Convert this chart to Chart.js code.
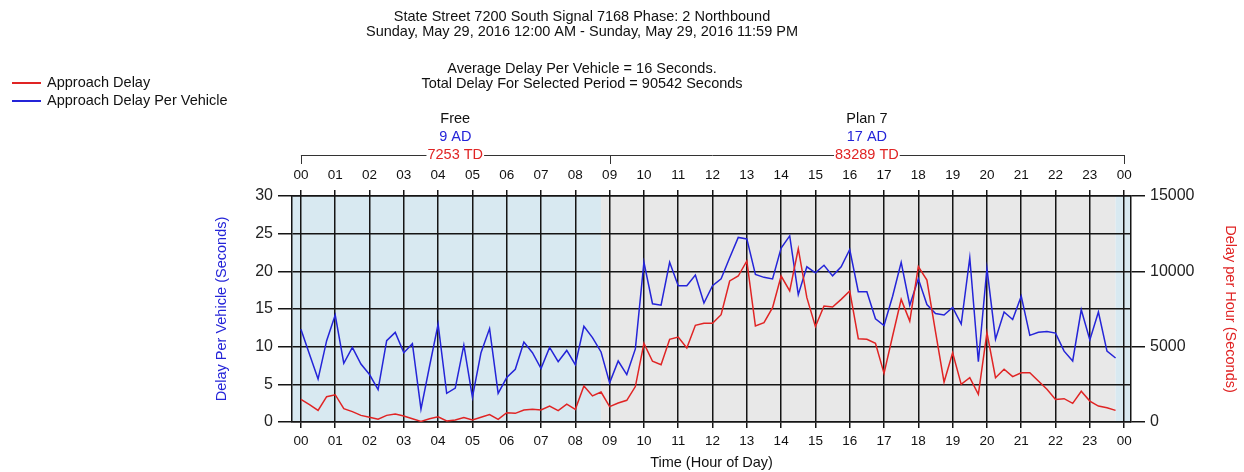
<!DOCTYPE html>
<html>
<head>
<meta charset="utf-8">
<script src="https://cdn.jsdelivr.net/npm/chart.js@4/dist/chart.umd.min.js"></script>
<style>
html,body{margin:0;padding:0;background:#fff;}
canvas{display:block;}
</style>
</head>
<body>
<canvas id="c" width="1244" height="472"></canvas>
<script>
// ---- data ----
const titleLines = [
  'State Street 7200 South Signal 7168 Phase: 2 Northbound',
  'Sunday, May 29, 2016 12:00 AM - Sunday, May 29, 2016 11:59 PM',
  '',
  'Average Delay Per Vehicle = 16 Seconds.',
  'Total Delay For Selected Period = 90542 Seconds'
];
const seriesNames = ['Approach Delay', 'Approach Delay Per Vehicle'];
const hourTicks = [0,1,2,3,4,5,6,7,8,9,10,11,12,13,14,15,16,17,18,19,20,21,22,23,24];
const hourTickLabels = ['00','01','02','03','04','05','06','07','08','09','10','11','12','13','14','15','16','17','18','19','20','21','22','23','00'];

// Approach delay per vehicle (seconds), every 15 minutes from 00:00
const delayPerVehicle = [
  12.3, 9.0, 5.7, 10.8, 14.2, 7.8, 9.9, 7.7,
  6.3, 4.3, 10.8, 11.9, 9.2, 10.4, 1.7, 7.4,
  13.0, 3.8, 4.5, 10.2, 3.3, 9.2, 12.4, 3.8,
  5.9, 7.0, 10.6, 9.2, 7.1, 9.9, 8.0, 9.5,
  7.6, 12.7, 11.2, 9.3, 5.2, 8.1, 6.3, 9.7,
  21.2, 15.7, 15.5, 21.2, 18.1, 18.1, 19.5, 15.8,
  18.1, 19.0, 21.8, 24.5, 24.3, 19.6, 19.2, 19.0,
  23.1, 24.7, 16.9, 20.6, 19.8, 20.8, 19.4, 20.6,
  22.9, 17.3, 17.3, 13.7, 12.8, 16.7, 21.2, 15.5,
  19.0, 15.6, 14.4, 14.2, 15.2, 13.0, 21.8, 8.0,
  20.4, 11.0, 14.6, 13.6, 16.7, 11.5, 11.9, 12.0,
  11.8, 9.4, 8.1, 14.9, 10.9, 14.6, 9.4, 8.5
];
// Approach delay (seconds per hour), every 15 minutes from 00:00
const approachDelay = [
  1500, 1150, 770, 1680, 1810, 880, 690, 440,
  310, 180, 440, 530, 400, 220, 40, 220,
  350, 70, 130, 290, 130, 310, 490, 180,
  620, 575, 800, 840, 800, 1060, 750, 1190,
  840, 2390, 1730, 1990, 1020, 1260, 1440, 2350,
  5220, 4030, 3800, 5490, 5640, 4910, 6420, 6550,
  6550, 7120, 9360, 9690, 10690, 6370, 6590, 7590,
  9690, 8700, 11500, 8250, 6330, 7700, 7630, 8140,
  8700, 5530, 5490, 5220, 3230, 5710, 8140, 6700,
  10310, 9420, 6000, 2650, 4600, 2500, 2940, 1840,
  5930, 2940, 3500, 3010, 3270, 3270, 2720, 2170,
  1500, 1550, 1240, 2040, 1390, 1060, 950, 770
];
const quarterHours = delayPerVehicle.map((_, i) => i / 4);

// timing plans
const planNames = ['Free', 'Plan 7'];
const planStart = [0, 9];
const planEnd = [9, 24];
const planAvgDelay = ['9 AD', '17 AD'];
const planTotalDelay = ['7253 TD', '83289 TD'];

// background bands (hours)
const bandStart = [-1, 8.75, 23.75];
const bandEnd = [8.75, 23.75, 25];
const bandColors = ['#d8e9f1', '#e8e8e8', '#d8e9f1'];

const RED = '#e02424';
const BLUE = '#2424d8';
const GRID = '#151515';
const FONT = '"Liberation Sans", Arial, sans-serif';
const TXT = 14.5;
const X_MIN = -0.26, X_MAX = 24.2;

const bgPlugin = {
  id: 'bands',
  beforeDraw(chart) {
    const {ctx, chartArea: a, scales: {x}} = chart;
    ctx.save();
    ctx.beginPath();
    ctx.rect(a.left, a.top, a.right - a.left, a.bottom - a.top);
    ctx.clip();
    bandStart.forEach((s, i) => {
      const x0 = x.getPixelForValue(s), x1 = x.getPixelForValue(bandEnd[i]);
      ctx.fillStyle = bandColors[i];
      ctx.fillRect(x0, a.top, x1 - x0, a.bottom - a.top);
    });
    ctx.restore();
  }
};

const textPlugin = {
  id: 'texts',
  afterDraw(chart) {
    const {ctx} = chart;
    const xt = chart.scales.xTop;
    ctx.save();
    // titles
    ctx.font = TXT + 'px ' + FONT;
    ctx.fillStyle = '#111';
    ctx.textAlign = 'center';
    ctx.textBaseline = 'middle';
    const ty = [17, 32, 50, 69, 84];
    titleLines.forEach((t, i) => { if (t) ctx.fillText(t, 582, ty[i]); });
    // legend
    const ly = [83, 101];
    const lc = [RED, BLUE];
    ctx.textAlign = 'left';
    seriesNames.forEach((n, i) => {
      ctx.strokeStyle = lc[i];
      ctx.lineWidth = 2;
      ctx.beginPath();
      ctx.moveTo(12, ly[i]); ctx.lineTo(41, ly[i]);
      ctx.stroke();
      ctx.fillStyle = '#111';
      ctx.fillText(n, 47, ly[i]);
    });
    // plan brackets
    const by = 155, bt = 164;
    ctx.strokeStyle = '#333';
    ctx.lineWidth = 1;
    ctx.beginPath();
    const xs = xt.getPixelForValue(planStart[0]);
    const xe = xt.getPixelForValue(planEnd[planEnd.length - 1]);
    ctx.moveTo(xs, by + 0.5); ctx.lineTo(xe, by + 0.5);
    planStart.forEach(s => {
      const px = Math.round(xt.getPixelForValue(s)) + 0.5;
      ctx.moveTo(px, by); ctx.lineTo(px, bt);
    });
    const pe = Math.round(xe) + 0.5;
    ctx.moveTo(pe, by); ctx.lineTo(pe, bt);
    ctx.stroke();
    ctx.textAlign = 'center';
    planNames.forEach((n, i) => {
      const cx = (xt.getPixelForValue(planStart[i]) + xt.getPixelForValue(planEnd[i])) / 2;
      ctx.fillStyle = '#111';
      ctx.fillText(n, cx, 119);
      ctx.fillStyle = BLUE;
      ctx.fillText(planAvgDelay[i], cx, 137);
      const w = ctx.measureText(planTotalDelay[i]).width;
      ctx.fillStyle = '#fff';
      ctx.fillRect(cx - w / 2 - 1, by - 7, w + 2, 14);
      ctx.fillStyle = RED;
      ctx.fillText(planTotalDelay[i], cx, by);
    });
    ctx.restore();
  }
};

const hourLabel = (v) => {
  const i = hourTicks.indexOf(v);
  return i >= 0 ? hourTickLabels[i] : '';
};

new Chart(document.getElementById('c'), {
  type: 'line',
  data: {
    datasets: [
      {
        label: seriesNames[0],
        data: quarterHours.map((h, i) => ({x: h, y: approachDelay[i]})),
        borderColor: RED, borderWidth: 1.5, pointRadius: 0, tension: 0,
        xAxisID: 'x', yAxisID: 'y2'
      },
      {
        label: seriesNames[1],
        data: quarterHours.map((h, i) => ({x: h, y: delayPerVehicle[i]})),
        borderColor: BLUE, borderWidth: 1.5, pointRadius: 0, tension: 0,
        xAxisID: 'x', yAxisID: 'y'
      }
    ]
  },
  options: {
    responsive: false,
    animation: false,
    devicePixelRatio: 1,
    layout: {padding: 0},
    plugins: {legend: {display: false}, title: {display: false}, tooltip: {enabled: false}},
    scales: {
      x: {
        type: 'linear', position: 'bottom', min: X_MIN, max: X_MAX,
        afterBuildTicks: s => { s.ticks = hourTicks.map(v => ({value: v})); },
        afterFit: s => { s.height = 50; },
        ticks: {callback: hourLabel, autoSkip: false, maxRotation: 0, padding: 5,
                color: '#111', font: {family: FONT, size: 13.5}},
        grid: {color: GRID, lineWidth: 1.5, tickLength: 6},
        border: {color: GRID, width: 1.5},
        title: {display: true, text: 'Time (Hour of Day)', color: '#111',
                font: {family: FONT, size: TXT}, padding: {top: 0, bottom: 0}}
      },
      xTop: {
        type: 'linear', position: 'top', min: X_MIN, max: X_MAX,
        afterBuildTicks: s => { s.ticks = hourTicks.map(v => ({value: v})); },
        afterFit: s => { s.height = 196; },
        ticks: {callback: hourLabel, autoSkip: false, maxRotation: 0, padding: 7,
                color: '#111', font: {family: FONT, size: 13.5}},
        grid: {drawOnChartArea: false, color: GRID, lineWidth: 1.5, tickLength: 6},
        border: {color: GRID, width: 1.5}
      },
      y: {
        position: 'left', min: 0, max: 30,
        afterFit: s => { s.width = 292; },
        ticks: {stepSize: 5, padding: 5, color: '#222', font: {family: FONT, size: 16}},
        grid: {color: GRID, lineWidth: 1.5, tickLength: 14},
        border: {color: GRID, width: 1.5},
        title: {display: true, text: 'Delay Per Vehicle (Seconds)', color: BLUE,
                font: {family: FONT, size: TXT}, padding: {top: 213, bottom: 0}}
      },
      y2: {
        position: 'right', min: 0, max: 15000,
        afterFit: s => { s.width = 113; },
        ticks: {stepSize: 5000, padding: 5, color: '#222', font: {family: FONT, size: 16},
                callback: v => String(v)},
        grid: {drawOnChartArea: false, color: GRID, lineWidth: 1.5, tickLength: 14},
        border: {color: GRID, width: 1.5},
        title: {display: true, text: 'Delay per Hour (Seconds)', color: RED,
                font: {family: FONT, size: TXT}, padding: {top: 5, bottom: 0}}
      }
    }
  },
  plugins: [bgPlugin, textPlugin]
});
</script>
</body>
</html>
